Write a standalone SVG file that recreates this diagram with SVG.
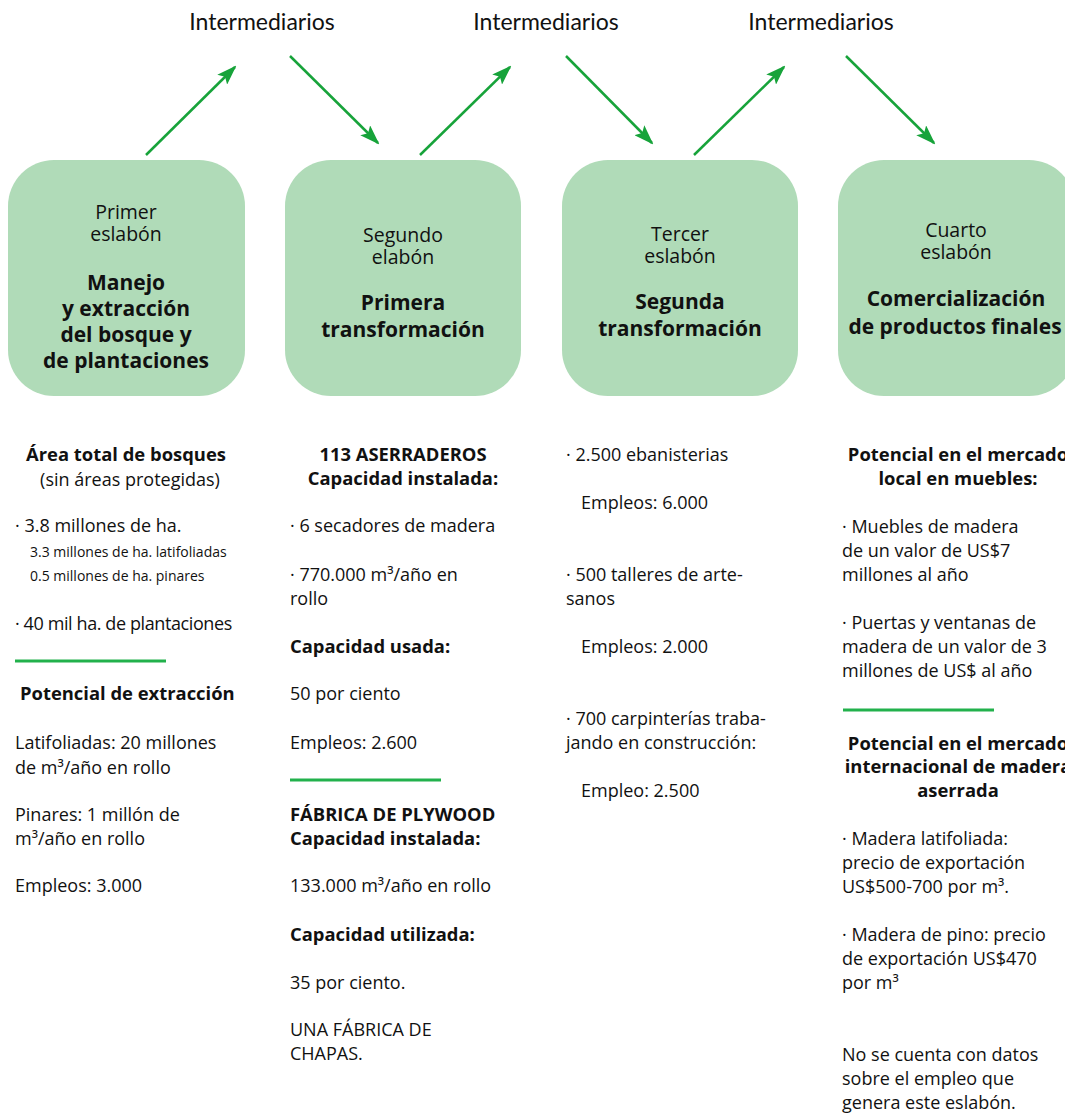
<svg xmlns="http://www.w3.org/2000/svg" width="1065" height="1114" viewBox="0 0 1065 1114">
  <style>
    text { font-family: "Open Sans", "Noto Sans", "Liberation Sans", sans-serif; fill: #111; }
    .lbl { font-family: "Lato", "Open Sans", sans-serif; font-size: 23px; text-anchor: middle; }
    .sub { font-size: 19.5px; text-anchor: middle; }
    .ttl { font-size: 21px; font-weight: bold; text-anchor: middle; }
    .b { font-size: 18px; }
    .bb { font-size: 18.4px; font-weight: bold; }
    .c { text-anchor: middle; }
    .sm { font-size: 14px; }
    .box { fill: #b0dbb8; }
    .rule { stroke: #22b14c; stroke-width: 3; }
    .arr { stroke: #17a33a; stroke-width: 2.5; fill: none; marker-end: url(#head); }
  </style>
  <defs>
    <marker id="head" viewBox="0 0 20 14" refX="18" refY="7" markerWidth="20" markerHeight="14" markerUnits="userSpaceOnUse" orient="auto">
      <path d="M0,0 L20,7 L0,14 L4,7 Z" fill="#17a33a"/>
    </marker>
  </defs>
  <rect width="1065" height="1114" fill="#fff"/>

  <!-- labels above the chain -->
  <g id="intermediarios">
    <text class="lbl" x="262" y="30">Intermediarios</text>
    <text class="lbl" x="546" y="30">Intermediarios</text>
    <text class="lbl" x="821" y="30">Intermediarios</text>
  </g>

  <!-- flows through intermediaries -->
  <g id="connectors">
    <line class="arr" x1="146" y1="155" x2="235" y2="67"/>
    <line class="arr" x1="290" y1="56" x2="378" y2="143"/>
    <line class="arr" x1="420" y1="155" x2="510" y2="67"/>
    <line class="arr" x1="566" y1="56" x2="652" y2="143"/>
    <line class="arr" x1="694" y1="155" x2="784" y2="67"/>
    <line class="arr" x1="846" y1="56" x2="934" y2="143"/>
  </g>

  <!-- links of the chain -->
  <g id="eslabon1">
    <rect class="box" x="8" y="160" width="237" height="236" rx="46"/>
    <text class="sub" x="126" y="219">Primer</text>
    <text class="sub" x="126" y="241">eslabón</text>
    <text class="ttl" x="126" y="290">Manejo</text>
    <text class="ttl" x="126" y="316">y extracción</text>
    <text class="ttl" x="126" y="342">del bosque y</text>
    <text class="ttl" x="126" y="368">de plantaciones</text>
  </g>
  <g id="eslabon2">
    <rect class="box" x="285" y="160" width="236" height="236" rx="46"/>
    <text class="sub" x="403" y="242">Segundo</text>
    <text class="sub" x="403" y="264">elabón</text>
    <text class="ttl" x="403" y="310">Primera</text>
    <text class="ttl" x="403" y="337">transformación</text>
  </g>
  <g id="eslabon3">
    <rect class="box" x="562" y="160" width="236" height="236" rx="46"/>
    <text class="sub" x="680" y="241">Tercer</text>
    <text class="sub" x="680" y="263">eslabón</text>
    <text class="ttl" x="680" y="309">Segunda</text>
    <text class="ttl" x="680" y="336">transformación</text>
  </g>
  <g id="eslabon4">
    <rect class="box" x="838" y="160" width="237" height="236" rx="46"/>
    <text class="sub" x="956" y="237">Cuarto</text>
    <text class="sub" x="956" y="259">eslabón</text>
    <text class="ttl" x="956" y="306">Comercialización</text>
    <text class="ttl" x="955" y="334">de productos finales</text>
  </g>

  <!-- column 1 details -->
  <g id="detalle1">
    <text class="bb c" x="126" y="461">Área  total de bosques</text>
    <text class="b c" x="130" y="486">(sin áreas protegidas)</text>
    <text class="b" x="15" y="532">· 3.8 millones  de ha.</text>
    <text class="sm" x="30" y="557">3.3 millones  de ha. latifoliadas</text>
    <text class="sm" x="30" y="581">0.5 millones de ha. pinares</text>
    <text class="b" x="15" y="630" letter-spacing="-0.4">· 40 mil ha. de plantaciones</text>
    <line class="rule" x1="15" y1="661" x2="166" y2="661"/>
    <text class="bb" x="20" y="700">Potencial de extracción</text>
    <text class="b" x="15" y="749">Latifoliadas: 20 millones</text>
    <text class="b" x="15" y="774">de m³/año en rollo</text>
    <text class="b" x="15" y="821">Pinares: 1 millón de</text>
    <text class="b" x="15" y="845">m³/año en rollo</text>
    <text class="b" x="15" y="892">Empleos: 3.000</text>
  </g>

  <!-- column 2 details -->
  <g id="detalle2">
    <text class="bb c" x="403" y="461">113 ASERRADEROS</text>
    <text class="bb c" x="403" y="485">Capacidad instalada:</text>
    <text class="b" x="290" y="532">· 6 secadores de madera</text>
    <text class="b" x="290" y="581">· 770.000 m³/año en</text>
    <text class="b" x="290" y="605">rollo</text>
    <text class="bb" x="290" y="653">Capacidad usada:</text>
    <text class="b" x="290" y="700">50 por ciento</text>
    <text class="b" x="290" y="749">Empleos: 2.600</text>
    <line class="rule" x1="290" y1="780" x2="441" y2="780"/>
    <text class="bb" x="290" y="821">FÁBRICA DE PLYWOOD</text>
    <text class="bb" x="290" y="845">Capacidad instalada:</text>
    <text class="b" x="290" y="892">133.000 m³/año en rollo</text>
    <text class="bb" x="290" y="941">Capacidad utilizada:</text>
    <text class="b" x="290" y="989">35 por ciento.</text>
    <text class="b" x="290" y="1036">UNA  FÁBRICA DE</text>
    <text class="b" x="290" y="1060">CHAPAS.</text>
  </g>

  <!-- column 3 details -->
  <g id="detalle3">
    <text class="b" x="566" y="461">· 2.500 ebanisterias</text>
    <text class="b" x="581" y="509">Empleos: 6.000</text>
    <text class="b" x="566" y="581">· 500 talleres de arte-</text>
    <text class="b" x="566" y="605">sanos</text>
    <text class="b" x="581" y="653">Empleos: 2.000</text>
    <text class="b" x="566" y="725">· 700 carpinterías traba-</text>
    <text class="b" x="566" y="749">jando en  construcción:</text>
    <text class="b" x="581" y="797">Empleo: 2.500</text>
  </g>

  <!-- column 4 details -->
  <g id="detalle4">
    <text class="bb c" x="958" y="461">Potencial en el mercado</text>
    <text class="bb c" x="958" y="485">local en muebles:</text>
    <text class="b" x="842" y="533">· Muebles de madera</text>
    <text class="b" x="842" y="557">de un valor de US$7</text>
    <text class="b" x="842" y="581">millones al año</text>
    <text class="b" x="842" y="629">· Puertas y ventanas de</text>
    <text class="b" x="842" y="653">madera de un valor de 3</text>
    <text class="b" x="842" y="677">millones de US$ al año</text>
    <line class="rule" x1="843" y1="710" x2="994" y2="710"/>
    <text class="bb c" x="958" y="750">Potencial en el mercado</text>
    <text class="bb c" x="958" y="773">internacional de madera</text>
    <text class="bb c" x="958" y="797">aserrada</text>
    <text class="b" x="842" y="845">· Madera latifoliada:</text>
    <text class="b" x="842" y="869">precio de exportación</text>
    <text class="b" x="842" y="893">US$500-700 por m³.</text>
    <text class="b" x="842" y="941">· Madera de pino: precio</text>
    <text class="b" x="842" y="965">de exportación US$470</text>
    <text class="b" x="842" y="989">por m³</text>
    <text class="b" x="842" y="1061">No se cuenta con datos</text>
    <text class="b" x="842" y="1085">sobre el empleo que</text>
    <text class="b" x="842" y="1109">genera este eslabón.</text>
  </g>
</svg>
